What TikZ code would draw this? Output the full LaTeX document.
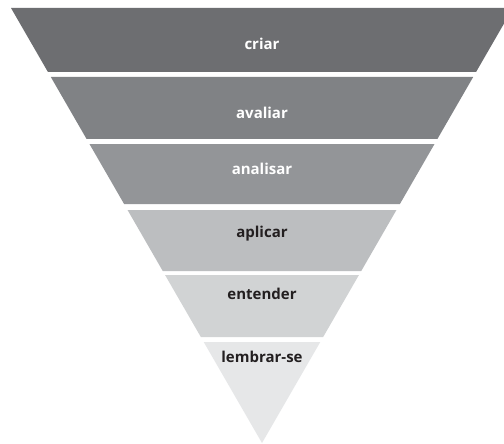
\documentclass[tikz,border=0pt]{standalone}
\usepackage{fontspec}
\setmainfont{Open Sans}
\definecolor{pyrgray70}{RGB}{109,110,113}
\definecolor{pyrgray60}{RGB}{128,130,133}
\definecolor{pyrgray50}{RGB}{147,149,152}
\definecolor{pyrgray30}{RGB}{188,190,192}
\definecolor{pyrgray20}{RGB}{209,211,212}
\definecolor{pyrgray10}{RGB}{230,231,232}
\definecolor{pyrink}{RGB}{35,31,32}

\begin{document}
\begin{tikzpicture}[x=1pt, y=-1pt,
    bandlabel/.style={anchor=base, inner sep=0pt, font=\bfseries\fontsize{15}{18}\selectfont}]
% Frame of the picture
\clip (0,0) rectangle (504,444);
\fill[white] (0,0) rectangle (504,444);
% Bands of the inverted pyramid: top/bottom/colour/label/ink/baseline/name
\foreach \ya/\yb/\shade/\txt/\ink/\yt/\nm in {
    8/72/pyrgray70/criar/white/50/criar,
    77/139/pyrgray60/avaliar/white/118/avaliar,
    144/204/pyrgray50/analisar/white/175/analisar,
    210/271/pyrgray30/aplicar/pyrink/237/aplicar,
    275/337/pyrgray20/entender/pyrink/299/entender,
    342/443/pyrgray10/lembrar-se/pyrink/362/lembrar}{
  \pgfmathsetmacro{\wa}{0.577*(443-\ya)}
  \pgfmathsetmacro{\wb}{0.577*(443-\yb)}
  \fill[\shade] ({262-\wa},\ya) -- ({262+\wa},\ya) -- ({262+\wb},\yb) -- ({262-\wb},\yb) -- cycle;
  \node[bandlabel, text=\ink] (\nm) at (262,\yt) {\txt};
}
\end{tikzpicture}
\end{document}
